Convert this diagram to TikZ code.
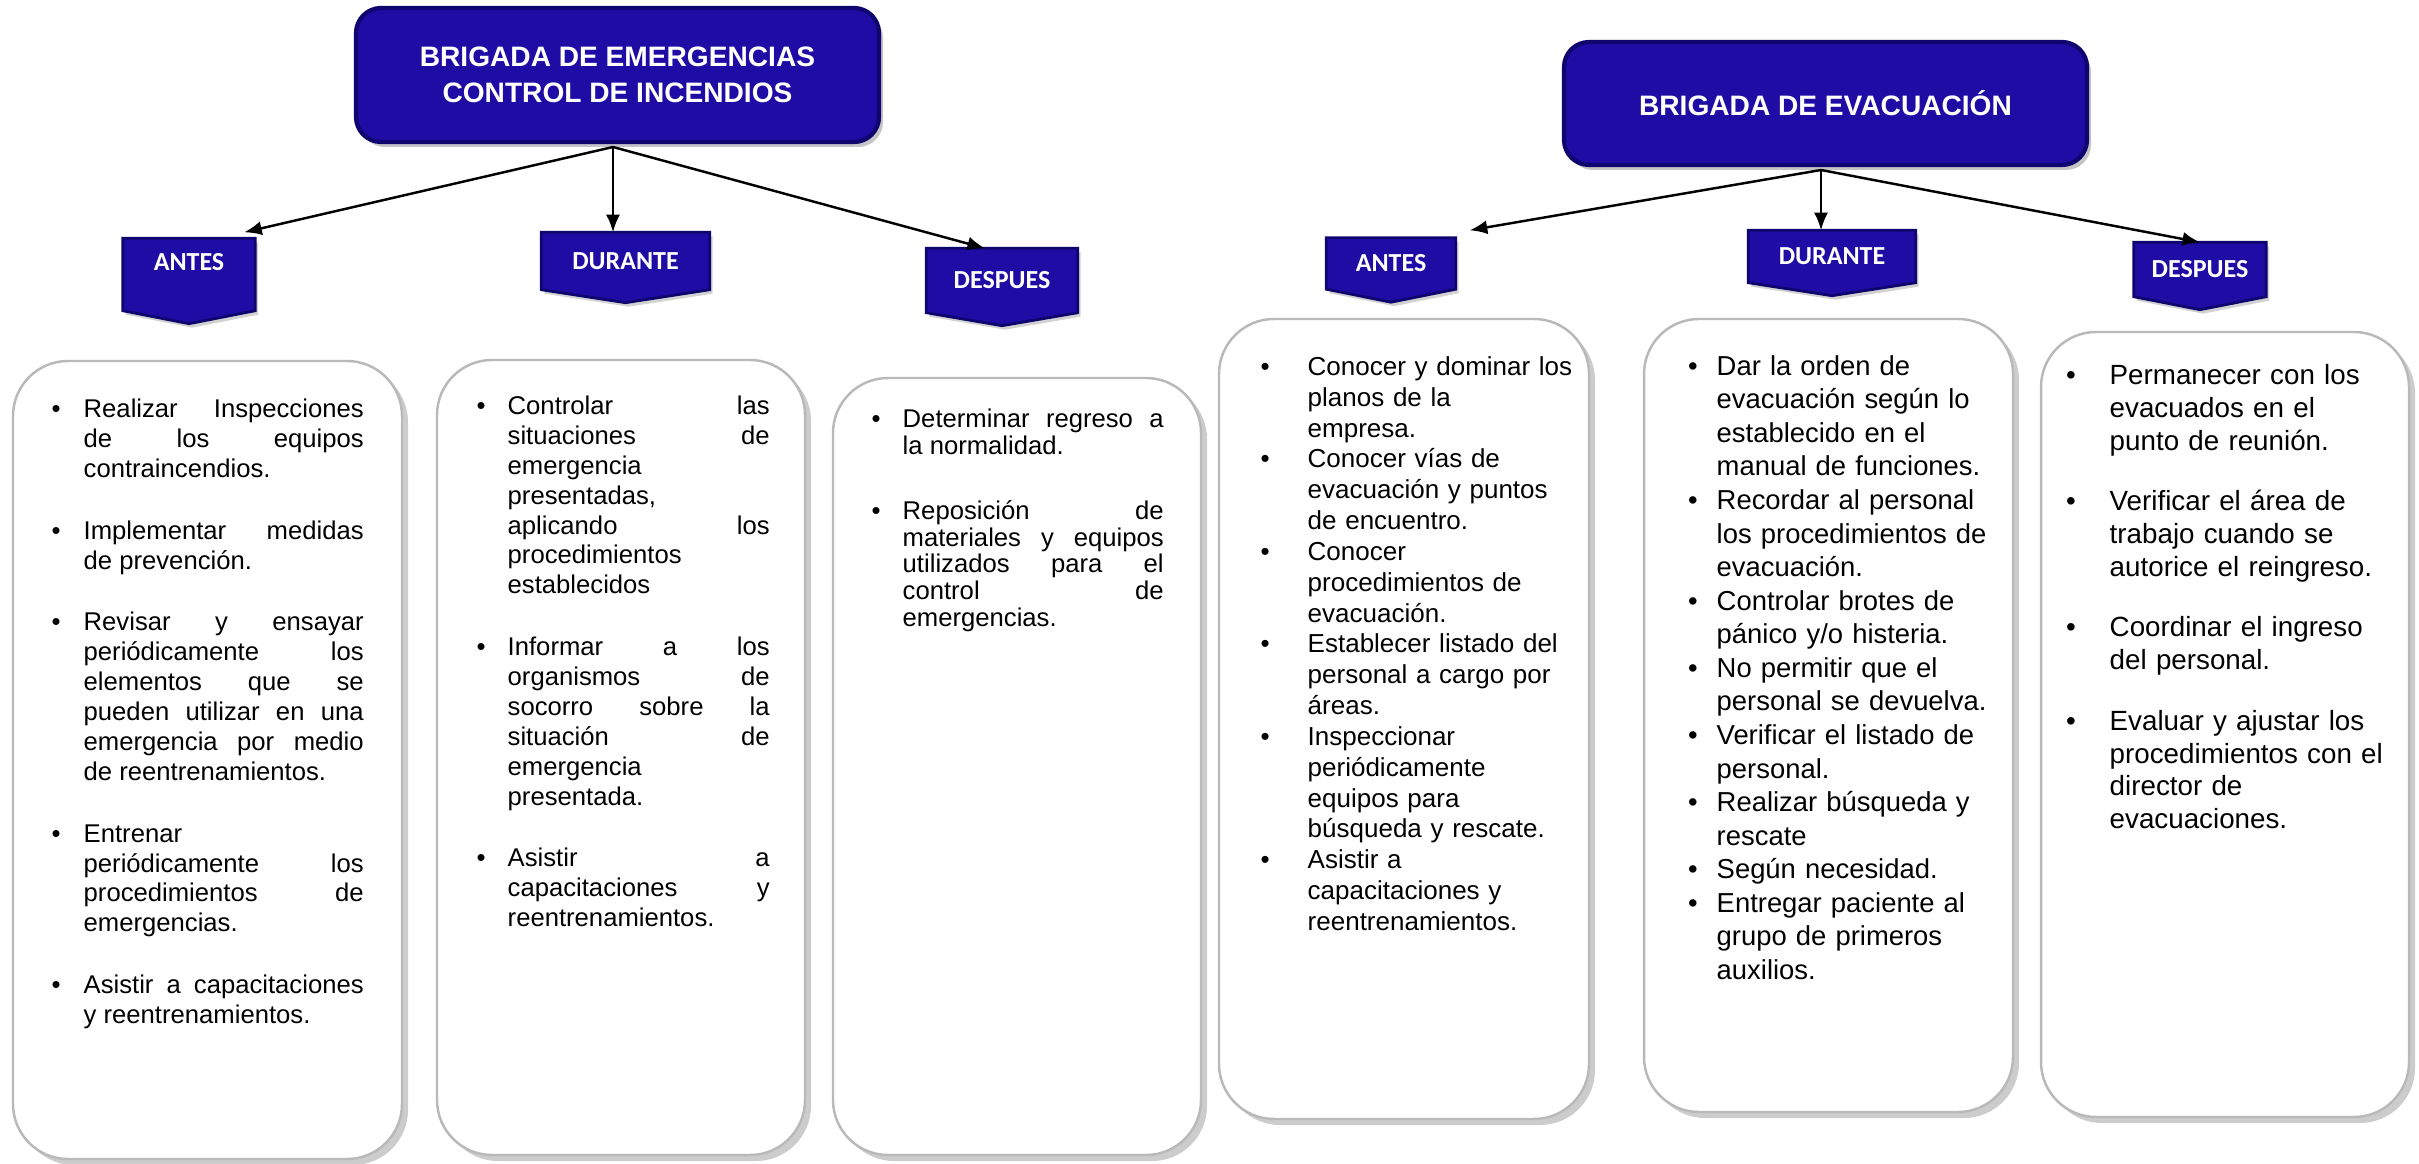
\documentclass[tikz,border=0pt]{standalone}
\usepackage{fontspec}
\setmainfont{Liberation Sans}
\newfontfamily\tabfont{Carlito}
\usepackage{enumitem}
\usetikzlibrary{arrows.meta,shadows,backgrounds}

\definecolor{brigblue}{RGB}{30,12,165}
\definecolor{brigdark}{RGB}{14,6,110}

% loose justified lines, no hyphens
\tolerance=10000
\hbadness=10000
\hyphenpenalty=10000

\tikzset{
    brighead/.style={rounded corners=0.25cm, fill=brigblue, draw=brigdark, line width=1.2pt,
        text=white, align=center, font=\fontsize{8}{10.2}\selectfont\bfseries,
        drop shadow={shadow xshift=0.4mm, shadow yshift=-0.5mm, fill=black!45}},
    tabnode/.style={inner sep=0pt, text=white, font=\tabfont\fontsize{7.4}{9}\selectfont\bfseries},
    tabfill/.style={fill=brigblue, draw=brigdark, line width=0.8pt,
        drop shadow={shadow xshift=0.3mm, shadow yshift=-0.4mm, fill=black!35}},
    card/.style={rounded corners=0.55cm, fill=white, draw=gray!55, line width=0.7pt,
        drop shadow={shadow xshift=0.6mm, shadow yshift=-0.6mm, fill=gray!80}},
    itemtext/.style={anchor=north west, inner sep=0pt, text width=#1},
    arr/.style={-{Latex[length=5pt,width=4pt]}, line width=0.7pt}
}

\begin{document}
\begin{tikzpicture}
    \useasboundingbox (0,0) rectangle (24.19,-11.64);

    % Brigada de emergencias - control de incendios
    \node[brighead, minimum width=5.23cm, minimum height=1.34cm] (lHead) at (6.175,-0.75)
        {BRIGADA DE EMERGENCIAS\\CONTROL DE INCENDIOS};
    \node[tabnode, minimum width=1.31cm, minimum height=0.46cm] (lAntes) at (1.89,-2.62) {ANTES};
    \node[tabnode, minimum width=1.67cm, minimum height=0.56cm] (lDurante) at (6.255,-2.61) {DURANTE};
    \node[tabnode, minimum width=1.50cm, minimum height=0.63cm] (lDespues) at (10.02,-2.805) {DESPUES};

    % Brigada de evacuacion
    \node[brighead, minimum width=5.23cm, minimum height=1.23cm] (rHead) at (18.255,-1.035)
        {BRIGADA DE EVACUACIÓN};
    \node[tabnode, minimum width=1.28cm, minimum height=0.50cm] (rAntes) at (13.91,-2.635) {ANTES};
    \node[tabnode, minimum width=1.66cm, minimum height=0.51cm] (rDurante) at (18.32,-2.565) {DURANTE};
    \node[tabnode, minimum width=1.31cm, minimum height=0.53cm] (rDespues) at (22.0,-2.695) {DESPUES};

    \begin{scope}[on background layer]
        \foreach \n/\ext in {lAntes/0.25,lDurante/0,lDespues/0,rAntes/0,rDurante/0,rDespues/0} {
            \fill[tabfill] (\n.north west) -- (\n.north east) -- ([yshift=-\ext cm]\n.south east)
                -- ([yshift=-\ext cm-0.13cm]\n.south) -- ([yshift=-\ext cm]\n.south west) -- cycle;
        }
    \end{scope}

    % arrows
    \coordinate (lHub) at (6.13,-1.47);
    \coordinate (rHub) at (18.21,-1.70);
    \draw[arr] (lHub) -- ([shift={(-0.11,0.06)}]lAntes.north east);
    \draw[arr] (lHub) -- (lHub |- lDurante.north);
    \draw[arr] (lHub) -- ([xshift=-0.17cm]lDespues.north);
    \draw[arr] (rHub) -- ([shift={(0.14,0.075)}]rAntes.north east);
    \draw[arr] (rHub) -- (rHub |- rDurante.north);
    \draw[arr] (rHub) -- (rDespues.north);

    % cards
    \node[card, minimum width=3.89cm, minimum height=7.98cm] (b1) at (2.075,-7.60) {};
    \node[card, minimum width=3.68cm, minimum height=7.95cm] (b2) at (6.21,-7.575) {};
    \node[card, minimum width=3.68cm, minimum height=7.77cm] (b3) at (10.17,-7.665) {};
    \node[card, minimum width=3.70cm, minimum height=8.00cm] (b4) at (14.04,-7.19) {};
    \node[card, minimum width=3.69cm, minimum height=7.93cm] (b5) at (18.285,-7.155) {};
    \node[card, minimum width=3.68cm, minimum height=7.85cm] (b6) at (22.25,-7.245) {};

    \node[itemtext=3.2cm, align=justify, font=\fontsize{7.3}{8.5}\selectfont] (t1) at (0.43,-3.87) {%
        \begin{itemize}[leftmargin=0.4cm, labelsep=0.23cm, itemsep=9.1pt, topsep=0pt, parsep=0pt, partopsep=0pt]
        \item Realizar Inspecciones\linebreak de los equipos\linebreak contraincendios.
        \item Implementar medidas\linebreak de prevención.
        \item Revisar y ensayar\linebreak periódicamente los\linebreak elementos que se\linebreak pueden utilizar en una\linebreak emergencia por medio\linebreak de reentrenamientos.
        \item Entrenar\linebreak periódicamente los\linebreak procedimientos de\linebreak emergencias.
        \item Asistir a capacitaciones\linebreak y reentrenamientos.
        \end{itemize}};
    \node[itemtext=3.02cm, align=justify, font=\fontsize{7.3}{8.5}\selectfont] (t2) at (4.67,-3.84) {%
        \begin{itemize}[leftmargin=0.4cm, labelsep=0.22cm, itemsep=9.1pt, topsep=0pt, parsep=0pt, partopsep=0pt]
        \item Controlar las\linebreak situaciones de\linebreak emergencia\linebreak presentadas,\linebreak aplicando los\linebreak procedimientos\linebreak establecidos
        \item Informar a los\linebreak organismos de\linebreak socorro sobre la\linebreak situación de\linebreak emergencia\linebreak presentada.
        \item Asistir a\linebreak capacitaciones y\linebreak reentrenamientos.
        \end{itemize}};
    \node[itemtext=3.01cm, align=justify, font=\fontsize{7.3}{7.6}\selectfont] (t3) at (8.62,-4.0) {%
        \begin{itemize}[leftmargin=0.4cm, labelsep=0.22cm, itemsep=11pt, topsep=0pt, parsep=0pt, partopsep=0pt]
        \item Determinar regreso a\linebreak la normalidad.
        \item Reposición de\linebreak materiales y equipos\linebreak utilizados para el\linebreak control de\linebreak emergencias.
        \end{itemize}};
    \node[itemtext=3.3cm, align=left, font=\fontsize{7.4}{8.77}\selectfont] (t4) at (12.57,-3.44) {%
        \begin{itemize}[leftmargin=0.5cm, labelsep=0.38cm, itemsep=0pt, topsep=0pt, parsep=0pt, partopsep=0pt]
        \item Conocer y dominar los\\ planos de la\\ empresa.
        \item Conocer vías de\\ evacuación y puntos\\ de encuentro.
        \item Conocer\\ procedimientos de\\ evacuación.
        \item Establecer listado del\\ personal a cargo por\\ áreas.
        \item Inspeccionar\\ periódicamente\\ equipos para\\ búsqueda y rescate.
        \item Asistir a\\ capacitaciones y\\ reentrenamientos.
        \end{itemize}};
    \node[itemtext=3.2cm, align=left, font=\fontsize{7.8}{9.55}\selectfont] (t5) at (16.76,-3.41) {%
        \begin{itemize}[leftmargin=0.4cm, labelsep=0.19cm, itemsep=0pt, topsep=0pt, parsep=0pt, partopsep=0pt]
        \item Dar la orden de\\ evacuación según lo\\ establecido en el\\ manual de funciones.
        \item Recordar al personal\\ los procedimientos de\\ evacuación.
        \item Controlar brotes de\\ pánico y/o histeria.
        \item No permitir que el\\ personal se devuelva.
        \item Verificar el listado de\\ personal.
        \item Realizar búsqueda y\\ rescate
        \item Según necesidad.
        \item Entregar paciente al\\ grupo de primeros\\ auxilios.
        \end{itemize}};
    \node[itemtext=3.3cm, align=left, font=\fontsize{7.9}{9.35}\selectfont] (t6) at (20.59,-3.51) {%
        \begin{itemize}[leftmargin=0.5cm, labelsep=0.34cm, itemsep=7.85pt, topsep=0pt, parsep=0pt, partopsep=0pt]
        \item Permanecer con los\\ evacuados en el\\ punto de reunión.
        \item Verificar el área de\\ trabajo cuando se\\ autorice el reingreso.
        \item Coordinar el ingreso\\ del personal.
        \item Evaluar y ajustar los\\ procedimientos con el\\ director de\\ evacuaciones.
        \end{itemize}};
\end{tikzpicture}
\end{document}
